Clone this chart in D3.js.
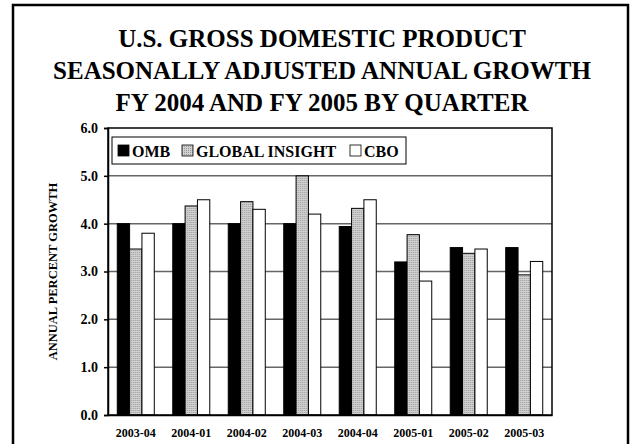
<!DOCTYPE html>
<head>
    <meta charset="utf-8">
    <script src="https://d3js.org/d3.v7.min.js"></script>
    <style>
        body { margin: 0; background: white; }
    </style>
</head>
<body>
<svg id="chart" width="631" height="444"></svg>
<script>
    // values
    const quarters = ["2003-04", "2004-01", "2004-02", "2004-03", "2004-04", "2005-01", "2005-02", "2005-03"];
    const seriesNames = ["OMB", "GLOBAL INSIGHT", "CBO"];
    const omb = [4.0, 4.0, 4.0, 4.0, 3.94, 3.2, 3.5, 3.5];
    const globalInsight = [3.47, 4.37, 4.46, 5.0, 4.32, 3.77, 3.38, 2.93];
    const cbo = [3.8, 4.5, 4.3, 4.2, 4.5, 2.8, 3.47, 3.21];
    const yTicks = [0, 1, 2, 3, 4, 5, 6];
    const titleLines = ["U.S. GROSS DOMESTIC PRODUCT", "SEASONALLY ADJUSTED ANNUAL GROWTH", "FY 2004 AND FY 2005 BY QUARTER"];

    const serif = "'Liberation Serif', 'Times New Roman', Times, serif";

    const values = [omb, globalInsight, cbo];
    const rows = quarters.map(function (q, i) {
        return {quarter: q, vals: seriesNames.map(function (s, j) { return {series: s, value: values[j][i]}; })};
    });

    const margin = {top: 128, right: 79, bottom: 29, left: 108};
    const W = 631, H = 444;
    const svg = d3.select("#chart")
        .attr("font-family", serif)
        .attr("font-weight", "bold");

    const defs = svg.append("defs");
    const pat = defs.append("pattern")
        .attr("id", "dots")
        .attr("width", 2).attr("height", 2)
        .attr("patternUnits", "userSpaceOnUse");
    pat.append("rect").attr("width", 2).attr("height", 2).attr("fill", "#d0d0d0");
    pat.append("rect").attr("width", 1).attr("height", 1).attr("fill", "#9a9a9a");

    const fills = {"OMB": "#000", "GLOBAL INSIGHT": "url(#dots)", "CBO": "#fff"};

    // outer frame
    svg.append("rect")
        .attr("x", 13).attr("y", 5)
        .attr("width", 615).attr("height", 460)
        .attr("fill", "none").attr("stroke", "#000").attr("stroke-width", 2.5);

    // title
    svg.append("g").selectAll("text")
        .data(titleLines).enter()
        .append("text")
        .attr("x", 322)
        .attr("y", function (d, i) { return 47 + i * 32; })
        .attr("text-anchor", "middle")
        .attr("font-size", 25)
        .text(function (d) { return d; });

    const x = d3.scaleBand()
        .domain(quarters)
        .range([margin.left, W - margin.right])
        .paddingInner(0.333)
        .paddingOuter(0.167);

    const xs = d3.scaleBand()
        .domain(seriesNames)
        .range([0, x.bandwidth()]);

    const y = d3.scaleLinear()
        .domain([0, 6])
        .range([H - margin.bottom, margin.top]);

    // gridlines
    svg.append("g").selectAll("line")
        .data(yTicks.slice(1, -1)).enter()
        .append("line")
        .attr("x1", margin.left).attr("x2", W - margin.right)
        .attr("y1", function (d) { return y(d); })
        .attr("y2", function (d) { return y(d); })
        .attr("stroke", "#666").attr("stroke-width", 1.5);

    // bars
    const groups = svg.append("g").selectAll("g")
        .data(rows).enter()
        .append("g")
        .attr("transform", function (d) { return "translate(" + x(d.quarter) + ",0)"; });

    groups.selectAll("rect")
        .data(function (d) { return d.vals; }).enter()
        .append("rect")
        .attr("x", function (d) { return xs(d.series); })
        .attr("y", function (d) { return y(d.value); })
        .attr("width", xs.bandwidth())
        .attr("height", function (d) { return y(0) - y(d.value); })
        .attr("fill", function (d) { return fills[d.series]; })
        .attr("stroke", "#000").attr("stroke-width", 1);

    // plot border
    svg.append("rect")
        .attr("x", margin.left).attr("y", margin.top)
        .attr("width", W - margin.right - margin.left)
        .attr("height", y(0) - margin.top)
        .attr("fill", "none").attr("stroke", "#000").attr("stroke-width", 1.5);

    const yAxis = d3.axisLeft(y)
        .tickValues(yTicks)
        .tickFormat(d3.format(".1f"))
        .tickSize(4)
        .tickPadding(6);

    const gy = svg.append("g")
        .attr("transform", "translate(" + margin.left + ",0)")
        .call(yAxis)
        .attr("font-family", serif)
        .attr("font-size", 14);
    gy.select(".domain").attr("stroke-width", 1.5);
    gy.selectAll(".tick line").attr("stroke-width", 1.5);
    gy.selectAll("text").attr("fill", "#000");

    const xAxis = d3.axisBottom(x).tickSize(0).tickPadding(13);
    const gx = svg.append("g")
        .attr("transform", "translate(0," + y(0) + ")")
        .call(xAxis)
        .attr("font-family", serif)
        .attr("font-size", 12);
    gx.select(".domain").attr("stroke-width", 1.5);
    gx.selectAll("text").attr("fill", "#000");

    // y axis title
    svg.append("text")
        .attr("transform", "translate(57," + ((y(0) + margin.top) / 2) + ") rotate(-90)")
        .attr("text-anchor", "middle")
        .attr("font-size", 12.5)
        .text("ANNUAL PERCENT GROWTH");

    // legend
    const legend = svg.append("g");
    legend.append("rect")
        .attr("x", 112).attr("y", 137)
        .attr("width", 294).attr("height", 27)
        .attr("fill", "#fff").attr("stroke", "#000").attr("stroke-width", 1);

    const legendX = [118, 182, 350];
    const items = legend.selectAll("g.item")
        .data(seriesNames).enter()
        .append("g")
        .attr("class", "item")
        .attr("transform", function (d, i) { return "translate(" + legendX[i] + ",0)"; });
    items.append("rect")
        .attr("x", 0).attr("y", 145)
        .attr("width", 11).attr("height", 11)
        .attr("fill", function (d) { return fills[d]; })
        .attr("stroke", "#000").attr("stroke-width", 0.8);
    items.append("text")
        .attr("x", 14).attr("y", 157)
        .attr("font-size", 16)
        .text(function (d) { return d; });
</script>
</body>
